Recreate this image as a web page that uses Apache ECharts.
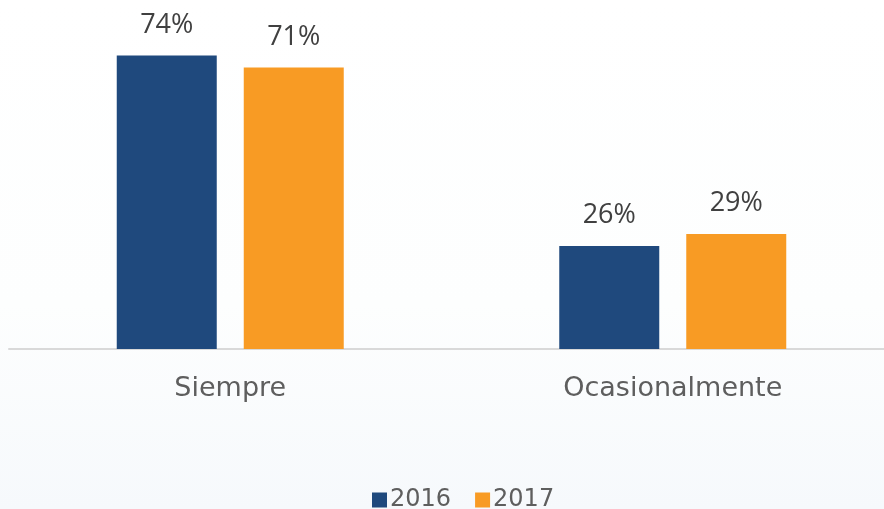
<!DOCTYPE html>
<html>
<head>
<meta charset="utf-8">
<script src="https://cdn.jsdelivr.net/npm/echarts@6/dist/echarts.min.js"></script>
<style>
  html, body { margin: 0; padding: 0; }
  #chart { width: 884px; height: 509px; }
</style>
</head>
<body>
<div id="chart"></div>
<script>
// Frecuencia por año
const categories = ['Siempre', 'Ocasionalmente'];
const years = ['2016', '2017'];
const values2016 = [74, 26];
const values2017 = [71, 29];

const chart = echarts.init(document.getElementById('chart'));

const labelStyle = {
  show: true,
  position: 'top',
  distance: 17,
  formatter: '{c}%',
  color: '#404040',
  fontFamily: 'Open Sans',
  fontSize: 27
};

chart.setOption({
  animation: false,
  backgroundColor: {
    type: 'linear', x: 0, y: 0, x2: 0, y2: 1,
    colorStops: [
      { offset: 0, color: '#ffffff' },
      { offset: 0.6, color: '#fdfefe' },
      { offset: 1, color: '#f6f9fc' }
    ]
  },
  grid: { left: 9, width: 885, top: 0, bottom: 160, containLabel: false, outerBoundsMode: 'none' },
  legend: {
    data: years,
    left: 367,
    top: 483,
    itemWidth: 15,
    itemHeight: 15,
    itemGap: 24,
    icon: 'rect',
    textStyle: { color: '#5e5e5e', fontFamily: 'DejaVu Sans', fontSize: 24, padding: [0, 0, 0, -2] }
  },
  xAxis: {
    type: 'category',
    data: categories,
    axisLine: { lineStyle: { color: '#d9d9d9', width: 2 } },
    axisTick: { show: false },
    axisLabel: { color: '#5e5e5e', fontFamily: 'DejaVu Sans', fontSize: 27, margin: 26 }
  },
  yAxis: {
    type: 'value',
    min: 0,
    max: 88,
    show: false,
    splitLine: { show: false }
  },
  series: [
    {
      name: years[0],
      type: 'bar',
      data: values2016,
      barWidth: 100,
      barGap: '27%',
      itemStyle: { color: '#1f497d' },
      label: labelStyle
    },
    {
      name: years[1],
      type: 'bar',
      data: values2017,
      barWidth: 100,
      barGap: '27%',
      itemStyle: { color: '#f89b24' },
      label: labelStyle
    }
  ]
});
</script>
</body>
</html>
